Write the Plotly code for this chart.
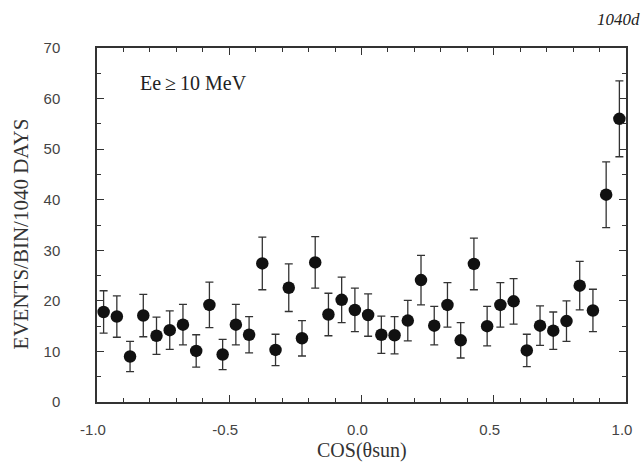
import plotly.graph_objects as go

cos_centers = [-0.975, -0.925, -0.875, -0.825, -0.775, -0.725, -0.675, -0.625, -0.575, -0.525,
               -0.475, -0.425, -0.375, -0.325, -0.275, -0.225, -0.175, -0.125, -0.075, -0.025,
               0.025, 0.075, 0.125, 0.175, 0.225, 0.275, 0.325, 0.375, 0.425, 0.475,
               0.525, 0.575, 0.625, 0.675, 0.725, 0.775, 0.825, 0.875, 0.925, 0.975]
events = [17.8, 16.9, 9.0, 17.1, 13.1, 14.2, 15.3, 10.1, 19.2, 9.4,
          15.3, 13.3, 27.4, 10.3, 22.6, 12.6, 27.6, 17.3, 20.2, 18.2,
          17.2, 13.3, 13.2, 16.1, 24.1, 15.1, 19.2, 12.2, 27.3, 15.0,
          19.2, 19.9, 10.2, 15.1, 14.1, 16.0, 23.0, 18.1, 41.0, 56.0]
errors = [4.2, 4.1, 3.0, 4.2, 3.7, 3.8, 4.0, 3.2, 4.5, 3.0,
          4.0, 3.6, 5.2, 3.1, 4.7, 3.5, 5.1, 4.2, 4.5, 4.3,
          4.2, 3.7, 3.7, 4.0, 4.9, 3.8, 4.4, 3.5, 5.1, 3.9,
          4.4, 4.5, 3.2, 3.9, 3.7, 4.0, 4.8, 4.2, 6.5, 7.5]

x_tickvals = [-1.0, -0.5, 0.0, 0.5, 1.0]
x_ticktext = ["-1.0", "-0.5", "0.0", "0.5", "1.0"]
y_tickvals = [0, 10, 20, 30, 40, 50, 60, 70]
y_ticktext = ["0", "10", "20", "30", "40", "50", "60", "70"]

fig = go.Figure()
fig.add_trace(go.Scatter(
    x=cos_centers, y=events, mode="markers",
    marker=dict(color="#111111", size=12.5, line=dict(width=0)),
    error_y=dict(type="data", array=errors, visible=True, color="#333333",
                 thickness=1.3, width=4),
    showlegend=False,
))

tick_font = dict(family="Liberation Sans, Arial, sans-serif", size=15, color="#444444")
serif = "Liberation Serif, Times New Roman, serif"

fig.update_layout(
    width=644, height=462,
    margin=dict(l=97, r=16, t=48, b=60),
    paper_bgcolor="white", plot_bgcolor="white",
    xaxis=dict(range=[-1.0, 1.0], tickvals=x_tickvals, ticktext=x_ticktext,
               ticks="inside", ticklen=7, tickwidth=1.2, tickcolor="#333",
               minor=dict(dtick=0.1, tick0=0, ticks="inside", ticklen=4, tickwidth=1, tickcolor="#333"),
               showline=True, linecolor="#333", linewidth=1.5, mirror="ticks",
               showgrid=False, zeroline=False, tickfont=tick_font,
               ticklabelstandoff=13, ticklabelshift=-4),
    yaxis=dict(range=[0, 70], tickvals=y_tickvals, ticktext=y_ticktext,
               ticks="inside", ticklen=7, tickwidth=1.2, tickcolor="#333",
               minor=dict(dtick=5, tick0=0, ticks="inside", ticklen=4, tickwidth=1, tickcolor="#333"),
               showline=True, linecolor="#333", linewidth=1.5, mirror="ticks",
               showgrid=False, zeroline=False, tickfont=tick_font, ticklabelstandoff=32),
    annotations=[
        dict(text="Ee\u2009\u2265\u200910 MeV", x=-0.845, y=63.0, xref="x", yref="y",
             xanchor="left", yanchor="middle", showarrow=False,
             font=dict(family=serif, size=20, color="#222")),
        dict(text="EVENTS/BIN/1040 DAYS", x=-0.142, y=0.476, xref="paper", yref="paper",
             textangle=-90, xanchor="center", yanchor="middle", showarrow=False,
             font=dict(family=serif, size=21, color="#333")),
        dict(text="COS(\u03b8sun)", x=0.50, y=-0.136, xref="paper", yref="paper",
             xanchor="center", yanchor="middle", showarrow=False,
             font=dict(family=serif, size=20, color="#333")),
        dict(text="<i>1040d</i>", x=1.03, y=1.08, xref="paper", yref="paper",
             xanchor="right", yanchor="middle", showarrow=False,
             font=dict(family=serif, size=17, color="#222")),
    ],
)

fig.write_html("out.html")
